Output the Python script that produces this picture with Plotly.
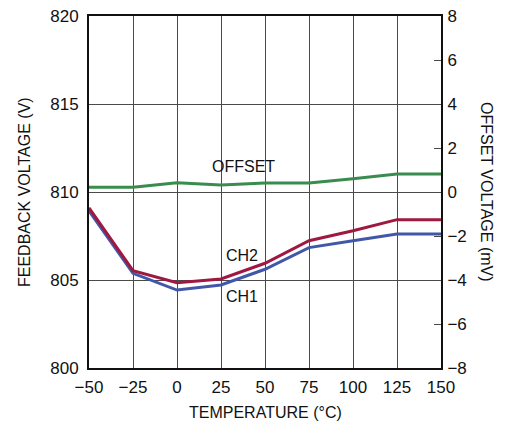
import plotly.graph_objects as go

temperature = [-50, -25, 0, 25, 50, 75, 100, 125, 150]
ch1_v = [808.92, 805.38, 804.43, 804.72, 805.61, 806.84, 807.23, 807.61, 807.61]
ch2_v = [809.10, 805.53, 804.85, 805.06, 805.95, 807.23, 807.80, 808.43, 808.43]
offset_mv = [0.22, 0.22, 0.42, 0.32, 0.41, 0.41, 0.60, 0.82, 0.82]

x_ticks = [-50, -25, 0, 25, 50, 75, 100, 125, 150]
left_ticks = [800, 805, 810, 815, 820]
right_ticks = [-8, -6, -4, -2, 0, 2, 4, 6, 8]

FONT = "Liberation Sans, Arial"
GREEN = "#3a8c4e"
RED = "#9e1840"
BLUE = "#4158a8"
GRID = "#4a4a4a"
TXT = "#111111"

fig = go.Figure()
fig.add_trace(go.Scatter(x=temperature, y=offset_mv, mode="lines", yaxis="y2",
                         line=dict(color=GREEN, width=3), showlegend=False))
fig.add_trace(go.Scatter(x=temperature, y=ch1_v, mode="lines",
                         line=dict(color=BLUE, width=3), showlegend=False))
fig.add_trace(go.Scatter(x=temperature, y=ch2_v, mode="lines",
                         line=dict(color=RED, width=3), showlegend=False))

# the page body adds an 8 px offset, so the figure is 8 px smaller and margins compensate
fig.update_layout(
    width=501, height=413,
    margin=dict(l=81, r=68, t=8, b=53),
    paper_bgcolor="white", plot_bgcolor="white",
    font=dict(family=FONT, size=17, color=TXT),
    xaxis=dict(range=[-50, 150], tickvals=x_ticks,
               ticktext=[f"{v}".replace("-", "\u2212") for v in x_ticks],
               showgrid=True, gridcolor=GRID, gridwidth=1.3,
               showline=True, linecolor=TXT, linewidth=2, mirror=True,
               ticks="", zeroline=False, ticklabelstandoff=3, automargin=False,
               ticklabeloverflow="allow"),
    yaxis=dict(range=[800, 820], tickvals=left_ticks,
               showgrid=True, gridcolor=GRID, gridwidth=1.3,
               showline=True, linecolor=TXT, linewidth=2,
               ticks="", zeroline=False, ticklabelstandoff=5, automargin=False,
               ticklabeloverflow="allow"),
    yaxis2=dict(range=[-8, 8], tickvals=right_ticks, overlaying="y", side="right",
                showgrid=False, showline=True, linecolor=TXT, linewidth=2,
                ticks="inside", ticklen=7, tickcolor=GRID, tickwidth=1.3,
                zeroline=False, ticklabelstandoff=1, automargin=False,
                ticklabeloverflow="allow"),
)

fig.add_annotation(text="FEEDBACK VOLTAGE (V)", textangle=-90, xref="paper", yref="paper",
                   x=0.0, y=0.5, xshift=-65, xanchor="center", yanchor="middle",
                   showarrow=False, font=dict(size=16))
fig.add_annotation(text="OFFSET VOLTAGE (mV)", textangle=90, xref="paper", yref="paper",
                   x=1.0, y=0.5, xshift=46, xanchor="center", yanchor="middle",
                   showarrow=False, font=dict(size=16))
fig.add_annotation(text="TEMPERATURE (°C)", xref="paper", yref="paper",
                   x=0.5, y=0.0, yshift=-44, xanchor="center", yanchor="middle",
                   showarrow=False, font=dict(size=16))
fig.add_annotation(text="OFFSET", x=37.5, y=1.14, xref="x", yref="y2", showarrow=False,
                   font=dict(size=16))
fig.add_annotation(text="CH2", x=37, y=806.42, xref="x", yref="y", showarrow=False,
                   font=dict(size=16))
fig.add_annotation(text="CH1", x=37, y=804.09, xref="x", yref="y", showarrow=False,
                   font=dict(size=16))

fig.write_html("out.html")
